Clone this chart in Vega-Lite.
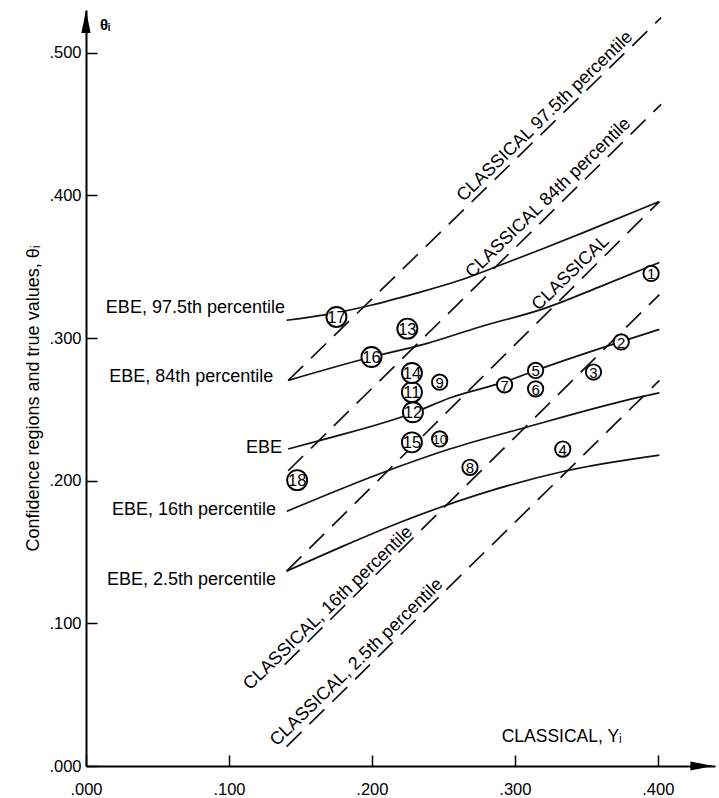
{
  "$schema": "https://vega.github.io/schema/vega-lite/v6.json",
  "width": 629,
  "height": 756,
  "autosize": {"type": "none"},
  "padding": {"left": 86, "top": 10, "right": 4, "bottom": 32},
  "background": "white",
  "config": {"view": {"stroke": null}, "font": "Liberation Sans", "text": {"font": "Liberation Sans", "color": "black"}},
  "encoding": {
    "x": {
      "field": "x", "type": "quantitative",
      "scale": {"domain": [0, 0.44], "nice": false, "zero": false},
      "axis": {"values": [0, 0.1, 0.2, 0.3, 0.4], "labelExpr": "substring(format(datum.value,'.3f'),1)", "title": null, "grid": false,
        "tickSize": -11, "tickWidth": 1.5, "tickColor": "black", "domainColor": "black", "domainWidth": 2,
        "labelPadding": 26, "labelFontSize": 16.5, "labelColor": "black", "labelFont": "Liberation Sans", "labelFlush": false}
    },
    "y": {
      "field": "y", "type": "quantitative",
      "scale": {"domain": [0, 0.53], "nice": false, "zero": false},
      "axis": {"values": [0, 0.1, 0.2, 0.3, 0.4, 0.5], "labelExpr": "substring(format(datum.value,'.3f'),1)", "grid": false,
        "tickSize": -11, "tickWidth": 1.5, "tickColor": "black", "domainColor": "black", "domainWidth": 2,
        "labelPadding": 16, "labelFontSize": 16.5, "labelColor": "black", "labelFont": "Liberation Sans", "labelFlush": false,
        "title": "Confidence regions and true values, θᵢ", "titleFontSize": 18, "titleFontWeight": "normal", "titleFont": "Liberation Sans",
        "titleColor": "black", "titleAngle": -90, "titleX": -53, "titleY": 388, "titleAlign": "center", "titleBaseline": "middle"}
    }
  },
  "layer": [
    {
      "data": {"values": [
        {"s": "C975", "x": 0.1414, "y": 0.2703}, {"s": "C975", "x": 0.4023, "y": 0.5246},
        {"s": "C84", "x": 0.1414, "y": 0.2070}, {"s": "C84", "x": 0.4023, "y": 0.4638},
        {"s": "C", "x": 0.1403, "y": 0.1366}, {"s": "C", "x": 0.4011, "y": 0.3957},
        {"s": "C16", "x": 0.1390, "y": 0.0710}, {"s": "C16", "x": 0.4011, "y": 0.3305},
        {"s": "C25", "x": 0.1403, "y": 0.0136}, {"s": "C25", "x": 0.4011, "y": 0.2703}
      ]},
      "mark": {"type": "line", "color": "#111", "strokeWidth": 1.7, "strokeDash": [21, 11]},
      "encoding": {"detail": {"field": "s"}}
    },
    {
      "data": {"values": [
        {"s": "E975", "x": 0.1403, "y": 0.3125}, {"s": "E975", "x": 0.1700, "y": 0.3168}, {"s": "E975", "x": 0.2000, "y": 0.3232},
        {"s": "E975", "x": 0.2300, "y": 0.3312}, {"s": "E975", "x": 0.2600, "y": 0.3400}, {"s": "E975", "x": 0.2900, "y": 0.3512},
        {"s": "E975", "x": 0.3200, "y": 0.3628}, {"s": "E975", "x": 0.3500, "y": 0.3748}, {"s": "E975", "x": 0.4011, "y": 0.3957},
        {"s": "E84", "x": 0.1414, "y": 0.2703}, {"s": "E84", "x": 0.1997, "y": 0.2867}, {"s": "E84", "x": 0.2381, "y": 0.2961},
        {"s": "E84", "x": 0.2753, "y": 0.3078}, {"s": "E84", "x": 0.3219, "y": 0.3212}, {"s": "E84", "x": 0.3592, "y": 0.3359},
        {"s": "E84", "x": 0.4011, "y": 0.3530},
        {"s": "E", "x": 0.1414, "y": 0.2222}, {"s": "E", "x": 0.1658, "y": 0.2288}, {"s": "E", "x": 0.2287, "y": 0.2475},
        {"s": "E", "x": 0.2544, "y": 0.2580}, {"s": "E", "x": 0.2928, "y": 0.2693}, {"s": "E", "x": 0.3145, "y": 0.2773},
        {"s": "E", "x": 0.3662, "y": 0.2949}, {"s": "E", "x": 0.4011, "y": 0.3061},
        {"s": "E16", "x": 0.1405, "y": 0.1786}, {"s": "E16", "x": 0.2078, "y": 0.2058}, {"s": "E16", "x": 0.2544, "y": 0.2222},
        {"s": "E16", "x": 0.3080, "y": 0.2375}, {"s": "E16", "x": 0.3873, "y": 0.2586}, {"s": "E16", "x": 0.4011, "y": 0.2616},
        {"s": "E25", "x": 0.1403, "y": 0.1366}, {"s": "E25", "x": 0.1775, "y": 0.1531}, {"s": "E25", "x": 0.2194, "y": 0.1707},
        {"s": "E25", "x": 0.2753, "y": 0.1906}, {"s": "E25", "x": 0.3359, "y": 0.2070}, {"s": "E25", "x": 0.4011, "y": 0.2180}
      ]},
      "mark": {"type": "line", "color": "#111", "strokeWidth": 1.7, "interpolate": "monotone"},
      "encoding": {"detail": {"field": "s"}}
    },
    {
      "data": {"name": "pts", "values": [
        {"n": 1, "x": 0.3953, "y": 0.3453}, {"n": 2, "x": 0.3744, "y": 0.2973}, {"n": 3, "x": 0.3550, "y": 0.2762},
        {"n": 4, "x": 0.3335, "y": 0.2222}, {"n": 5, "x": 0.3145, "y": 0.2773}, {"n": 6, "x": 0.3145, "y": 0.2644},
        {"n": 7, "x": 0.2928, "y": 0.2672}, {"n": 8, "x": 0.2686, "y": 0.2094}, {"n": 9, "x": 0.2474, "y": 0.2691},
        {"n": 10, "x": 0.2474, "y": 0.2293}, {"n": 11, "x": 0.2280, "y": 0.2621}, {"n": 12, "x": 0.2287, "y": 0.2480},
        {"n": 13, "x": 0.2248, "y": 0.3066}, {"n": 14, "x": 0.2280, "y": 0.2755}, {"n": 15, "x": 0.2280, "y": 0.2269},
        {"n": 16, "x": 0.1997, "y": 0.2867}, {"n": 17, "x": 0.1752, "y": 0.3148}, {"n": 18, "x": 0.1477, "y": 0.2004}
      ]},
      "layer": [
        {
          "mark": {"type": "point", "shape": "circle", "filled": true, "fill": "white", "stroke": "black", "strokeWidth": 1.9, "opacity": 1},
          "encoding": {"size": {"condition": {"test": "datum.n >= 11", "value": 400}, "value": 235}}
        },
        {
          "mark": {"type": "text", "align": "center", "baseline": "middle", "font": "Liberation Sans", "color": "black", "dy": 1},
          "encoding": {
            "text": {"field": "n", "type": "nominal"},
            "size": {"condition": [{"test": "datum.n == 10", "value": 13}, {"test": "datum.n >= 11", "value": 16.5}], "value": 15}
          }
        }
      ]
    },
    {
      "data": {"values": [
        {"label": "EBE, 97.5th percentile", "x": 0.1392, "y": 0.3210},
        {"label": "EBE, 84th percentile", "x": 0.1310, "y": 0.2730},
        {"label": "EBE", "x": 0.1371, "y": 0.2228},
        {"label": "EBE, 16th percentile", "x": 0.1329, "y": 0.1795},
        {"label": "EBE, 2.5th percentile", "x": 0.1329, "y": 0.1304}
      ]},
      "mark": {"type": "text", "align": "right", "baseline": "middle", "fontSize": 18, "font": "Liberation Sans", "color": "black"},
      "encoding": {"text": {"field": "label"}}
    },
    {
      "data": {"values": [
        {"label": "CLASSICAL 97.5th percentile", "x": 0.3211, "y": 0.4553},
        {"label": "CLASSICAL 84th percentile", "x": 0.3234, "y": 0.3981},
        {"label": "CLASSICAL", "x": 0.3391, "y": 0.3455},
        {"label": "CLASSICAL, 16th percentile", "x": 0.1695, "y": 0.1106},
        {"label": "CLASSICAL, 2.5th percentile", "x": 0.1894, "y": 0.0726}
      ]},
      "mark": {"type": "text", "align": "center", "baseline": "middle", "angle": -44, "fontSize": 18, "font": "Liberation Sans", "color": "black"},
      "encoding": {"text": {"field": "label"}}
    },
    {
      "data": {"values": [{"label": "CLASSICAL, Yᵢ", "x": 0.3328, "y": 0.0205}]},
      "mark": {"type": "text", "align": "center", "baseline": "middle", "fontSize": 17.5, "font": "Liberation Sans", "color": "black"},
      "encoding": {"text": {"field": "label"}}
    },
    {
      "data": {"values": [{"label": "θᵢ", "x": 0.0098, "y": 0.5196}]},
      "mark": {"type": "text", "align": "left", "baseline": "middle", "fontSize": 15, "fontWeight": "bold", "font": "Liberation Sans", "color": "black"},
      "encoding": {"text": {"field": "label"}}
    },
    {
      "data": {"values": [{"x": 0.4308, "y": 0}]},
      "mark": {"type": "point", "shape": "M-1,-0.4L1,0L-1,0.4Z", "filled": true, "color": "black", "size": 529, "opacity": 1, "strokeWidth": 0}
    },
    {
      "data": {"values": [{"x": 0, "y": 0.522}]},
      "mark": {"type": "point", "shape": "M0,-1L0.4,1L-0.4,1Z", "filled": true, "color": "black", "size": 529, "opacity": 1, "strokeWidth": 0}
    }
  ]
}
